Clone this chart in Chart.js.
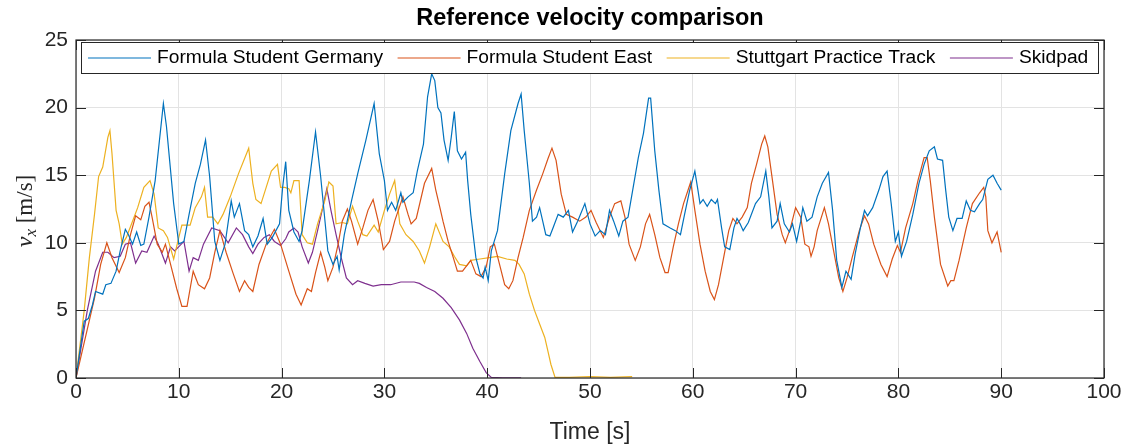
<!DOCTYPE html>
<html>
<head>
<meta charset="utf-8">
<script src="https://cdn.jsdelivr.net/npm/chart.js@4"></script>
<style>
html,body{margin:0;padding:0;background:#fff;}
#wrap{width:1126px;height:446px;}
</style>
</head>
<body>
<div id="wrap"><canvas id="c" width="1126" height="446"></canvas></div>
<script>
// ---- data (time [s], speed [m/s]) ----
const seriesNames = ['Formula Student Germany', 'Formula Student East', 'Stuttgart Practice Track', 'Skidpad'];
const xTicks = [0, 10, 20, 30, 40, 50, 60, 70, 80, 90, 100];
const yTicks = [0, 5, 10, 15, 20, 25];

const fsgSamples = [[0,0],[0.8,4.2],[1.2,4.4],[1.6,5.4],[1.9,6.4],[2.6,6.2],[2.9,6.9],[3.4,7.0],[3.9,7.9],[4.3,9.4],[4.8,11.0],[5.1,10.6],[5.5,9.9],[5.9,10.8],[6.3,9.8],[6.6,9.9],[7.1,11.9],[7.7,14.6],[8.5,20.3],[8.8,18.6],[9.5,12.9],[10.0,9.9],[10.5,10.1],[11.0,12.1],[11.6,14.4],[12.1,15.8],[12.6,17.6],[13.0,14.9],[13.5,10.1],[14.0,8.7],[14.5,9.9],[15.1,13.1],[15.4,11.9],[15.9,12.9],[16.4,10.9],[16.8,10.6],[17.2,9.7],[17.7,10.5],[18.2,11.8],[18.6,9.9],[19.1,10.4],[19.8,11.4],[20.1,14.1],[20.4,16.0],[20.7,12.4],[21.2,10.8],[21.7,10.1],[22.0,10.9],[22.7,14.6],[23.3,18.2],[23.8,14.9],[24.5,9.4],[25.0,8.4],[25.4,9.0],[25.6,8.0],[26.1,10.6],[26.8,13.1],[27.4,15.1],[28.2,17.6],[29.0,20.3],[29.5,16.6],[30.0,14.6],[30.3,12.4],[30.7,13.0],[31.1,12.4],[31.6,13.7],[31.8,13.0],[32.3,13.4],[32.8,13.7],[33.2,15.3],[33.8,17.3],[34.2,20.8],[34.6,22.5],[34.9,22.0],[35.2,20.0],[35.5,19.6],[35.8,17.6],[36.2,16.1],[36.5,17.8],[36.8,19.7],[37.1,16.8],[37.5,16.2],[37.9,16.7],[38.1,14.6],[38.4,12.1],[38.9,8.9],[39.3,7.7],[39.6,7.4],[39.8,8.2],[40.1,7.2],[40.4,9.4],[41.0,10.9],[41.7,15.1],[42.3,18.3],[43.0,20.3],[43.3,21.0],[43.6,18.3],[44.1,14.4],[44.4,11.6],[44.8,11.9],[45.1,12.6],[45.4,11.6],[45.7,10.6],[46.1,10.5],[46.4,11.1],[46.9,12.1],[47.4,11.9],[47.9,12.4],[48.3,10.8],[48.8,11.6],[49.5,12.9],[50.0,11.4],[50.5,10.5],[51.0,10.9],[51.5,10.6],[51.9,12.4],[52.3,11.6],[52.8,10.5],[53.2,11.6],[53.7,11.9],[54.2,14.1],[54.7,16.3],[55.2,18.1],[55.7,20.7],[55.9,20.7],[56.3,16.8],[56.7,13.9],[57.1,11.4],[57.8,11.1],[58.3,10.9],[58.8,10.6],[59.2,12.1],[59.7,13.9],[60.2,15.3],[60.5,13.9],[60.7,12.9],[61.0,13.2],[61.4,12.7],[61.8,13.2],[62.2,12.9],[62.4,13.2],[62.8,11.1],[63.1,9.7],[63.6,9.5],[64.0,11.1],[64.3,11.8],[64.6,11.4],[64.9,10.9],[65.4,11.5],[66.1,12.9],[66.6,13.4],[67.1,15.3],[67.4,13.4],[67.7,11.1],[68.2,11.6],[68.5,12.9],[68.9,11.4],[69.4,10.8],[69.7,11.4],[70.1,10.1],[70.5,11.6],[70.7,12.6],[71.1,11.6],[71.6,11.9],[72.1,13.4],[72.6,14.4],[73.2,15.2],[73.6,12.4],[74.0,8.7],[74.5,6.7],[74.9,7.9],[75.4,7.3],[75.8,9.2],[76.3,11.1],[76.7,12.4],[77.0,12.0],[77.5,12.6],[78.1,13.9],[78.5,14.9],[78.9,15.3],[79.3,12.9],[79.7,10.1],[80.0,10.8],[80.3,9.0],[80.8,10.1],[81.4,12.1],[82.0,14.4],[82.5,15.8],[83.0,16.8],[83.5,17.1],[83.8,16.2],[84.3,16.1],[84.6,13.9],[84.9,11.9],[85.3,10.9],[85.7,11.8],[86.2,11.8],[86.6,13.1],[87.0,12.4],[87.4,12.3],[87.9,12.9],[88.2,13.2],[88.7,14.7],[89.2,15.0],[89.6,14.4],[90.0,13.9]];

const fseSamples = [[0,0],[1.8,5.9],[2.4,8.4],[3.0,10.0],[3.5,8.9],[4.2,7.8],[4.8,8.9],[5.3,10.6],[5.8,12.0],[6.3,11.7],[6.7,12.7],[7.1,13.0],[7.4,11.9],[7.9,9.9],[8.4,9.3],[8.7,9.9],[9.2,8.4],[9.8,6.6],[10.3,5.3],[10.8,5.3],[11.4,7.9],[11.9,6.9],[12.5,6.6],[13.0,7.4],[13.5,9.3],[14.0,10.9],[14.6,9.3],[15.3,7.7],[15.9,6.4],[16.4,7.2],[16.8,6.7],[17.2,6.4],[17.8,8.4],[18.5,9.9],[19.3,11.0],[19.9,9.9],[20.7,7.9],[21.4,6.2],[21.9,5.4],[22.5,6.6],[22.9,6.4],[23.3,7.8],[23.8,9.3],[24.2,8.2],[24.5,7.2],[25.0,8.2],[25.5,9.9],[25.9,11.6],[26.4,12.5],[26.8,11.6],[27.4,9.9],[27.9,11.1],[28.4,12.4],[28.9,13.2],[29.4,11.6],[29.9,9.5],[30.5,10.1],[31.0,11.6],[31.8,13.4],[32.3,12.1],[32.6,11.4],[33.1,11.8],[33.9,14.4],[34.6,15.5],[35.0,13.9],[35.4,12.6],[35.7,11.6],[36.2,10.1],[36.7,8.9],[37.1,7.9],[37.6,7.9],[37.9,8.2],[38.4,8.7],[38.9,7.7],[39.4,7.5],[39.9,8.2],[40.3,9.7],[40.7,9.9],[41.2,8.4],[41.7,6.9],[42.1,6.6],[42.5,7.2],[43.0,8.9],[43.5,10.4],[44.1,12.4],[44.8,13.9],[45.4,15.1],[45.9,16.2],[46.3,17.0],[46.7,16.1],[47.2,13.6],[47.7,12.1],[48.3,11.9],[49.0,11.6],[49.6,11.9],[50.1,12.4],[50.6,11.5],[51.3,10.4],[51.9,11.9],[52.4,12.9],[53.0,13.1],[53.4,11.9],[53.8,9.9],[54.4,8.7],[54.9,9.7],[55.4,11.4],[55.8,12.1],[56.3,10.6],[56.8,8.9],[57.3,7.8],[57.6,7.8],[58.1,9.7],[58.6,11.4],[59.1,12.9],[59.8,14.5],[60.2,12.4],[60.7,9.9],[61.2,7.9],[61.7,6.4],[62.1,5.8],[62.5,6.9],[63.0,8.9],[63.5,10.9],[63.9,11.8],[64.3,11.4],[64.8,11.9],[65.3,12.6],[65.7,14.4],[66.2,15.8],[66.7,17.3],[67.0,17.9],[67.3,17.1],[67.7,14.9],[68.2,12.1],[68.7,10.6],[69.0,10.0],[69.5,11.1],[70.0,12.6],[70.5,11.9],[70.9,9.9],[71.3,9.7],[71.5,9.0],[71.8,9.7],[72.1,10.9],[72.8,12.6],[73.2,11.4],[73.7,9.4],[74.2,7.4],[74.6,6.4],[75.0,7.4],[75.5,8.9],[76.2,10.9],[76.7,12.0],[77.1,11.4],[77.6,9.9],[78.3,8.4],[78.9,7.5],[79.4,8.8],[79.9,9.8],[80.2,9.3],[80.7,11.1],[81.4,12.9],[81.9,14.6],[82.5,16.3],[82.8,16.3],[83.1,14.6],[83.5,11.9],[84.1,8.4],[84.8,6.8],[85.1,7.2],[85.4,7.2],[85.9,8.7],[86.6,11.1],[87.2,12.9],[87.9,13.7],[88.3,14.1],[88.5,13.4],[88.7,10.9],[89.1,10.0],[89.6,10.8],[90.0,9.3]];

const stgSamples = [[0,0],[0.8,5.0],[1.3,8.9],[1.8,12.1],[2.2,14.9],[2.6,15.6],[3.1,17.8],[3.3,18.3],[3.5,16.6],[3.9,12.4],[4.2,11.4],[4.5,9.9],[4.9,10.4],[5.5,11.6],[6.0,12.6],[6.6,14.1],[7.2,14.6],[7.6,13.6],[8.0,11.1],[8.5,10.9],[8.9,10.4],[9.5,8.8],[10.0,10.4],[10.3,11.3],[11.1,11.3],[11.6,12.6],[12.2,13.4],[12.5,14.1],[12.8,11.9],[13.3,11.9],[13.8,11.4],[14.3,12.1],[15.0,13.4],[15.8,15.1],[16.8,17.0],[17.2,14.4],[17.5,13.2],[18.0,12.9],[18.5,14.1],[19.0,15.3],[19.6,15.8],[19.9,14.1],[20.3,14.1],[20.7,14.0],[20.9,13.7],[21.2,14.6],[21.7,14.6],[22.0,10.6],[22.5,10.0],[23.0,9.9],[23.5,11.4],[24.2,13.1],[24.6,14.5],[25.0,14.2],[25.3,11.4],[25.9,11.5],[26.4,11.4],[26.9,12.7],[27.4,11.6],[27.9,10.6],[28.3,10.5],[29.0,11.3],[29.4,10.8],[30.0,12.4],[30.5,13.6],[31.0,14.6],[31.5,11.4],[32.1,10.6],[32.8,10.1],[33.4,9.4],[33.9,8.5],[34.4,9.7],[35.0,11.4],[35.7,10.1],[36.3,9.7],[36.8,9.0],[37.3,8.4],[38.0,8.3],[38.4,8.7],[39.3,8.8],[40.2,8.9],[41.0,9.0],[41.9,8.8],[42.7,8.7],[43.1,8.4],[43.6,7.7],[44.1,6.2],[44.6,5.0],[45.1,4.0],[45.6,3.0],[45.9,2.0],[46.2,1.0],[46.6,0.05],[48.0,0.05],[50.0,0.1],[52.0,0.05],[54.1,0.1]];

const skidSamples = [[0,0],[1.1,5.0],[1.9,7.9],[2.6,9.3],[3.1,9.3],[3.7,8.9],[4.3,9.0],[4.8,9.9],[5.3,10.0],[5.8,8.5],[6.4,9.4],[6.9,9.3],[7.6,10.5],[8.0,9.9],[8.7,8.5],[9.2,9.7],[9.6,9.4],[10.5,10.1],[11.0,7.9],[11.4,8.9],[11.9,8.7],[12.4,9.9],[13.2,11.1],[14.0,10.9],[14.8,10.0],[15.6,11.1],[16.2,10.6],[16.8,9.7],[17.2,9.2],[17.7,9.9],[18.3,10.4],[18.8,10.6],[19.3,10.1],[19.9,9.8],[20.4,10.3],[20.7,10.8],[21.2,11.1],[21.6,10.8],[22.0,9.7],[22.6,8.5],[23.0,9.3],[23.5,10.9],[24.0,12.6],[24.4,14.0],[24.8,12.4],[25.3,10.6],[25.8,8.9],[26.3,7.4],[26.9,6.9],[27.4,7.2],[28.1,7.0],[28.9,6.8],[29.7,6.9],[30.6,6.9],[31.6,7.1],[32.9,7.1],[33.4,7.0],[34.1,6.7],[34.9,6.4],[35.7,5.9],[36.5,5.2],[37.3,4.3],[38.0,3.3],[38.6,2.2],[39.3,1.2],[39.9,0.4],[40.4,0.05],[41.5,0.02],[43.3,0.02]];

const seriesColors = ['#0072BD', '#D95319', '#EDB120', '#7E2F8E'];

// ---- build chart ----
const toXY = arr => arr.map(p => ({x: p[0], y: p[1]}));
const allSamples = [fsgSamples, fseSamples, stgSamples, skidSamples];
const TXT = '#262626';
const SANS = '"Liberation Sans", Arial, Helvetica, sans-serif';
const SERIF = '"Liberation Serif", "Times New Roman", serif';

const matlabDecor = {
  id: 'matlabDecor',
  afterDatasetsDraw(chart) {
    const {ctx, chartArea: a, scales} = chart;
    ctx.save();
    // box
    ctx.strokeStyle = TXT;
    ctx.lineWidth = 1.2;
    ctx.strokeRect(a.left, a.top, a.right - a.left, a.bottom - a.top);
    // inward ticks on all sides
    const tl = 10;
    ctx.beginPath();
    scales.x.ticks.forEach(t => {
      const px = Math.round(scales.x.getPixelForValue(t.value)) + 0.5;
      ctx.moveTo(px, a.bottom); ctx.lineTo(px, a.bottom - tl);
      ctx.moveTo(px, a.top); ctx.lineTo(px, a.top + tl);
    });
    scales.y.ticks.forEach(t => {
      const py = Math.round(scales.y.getPixelForValue(t.value)) + 0.5;
      ctx.moveTo(a.left, py); ctx.lineTo(a.left + tl, py);
      ctx.moveTo(a.right, py); ctx.lineTo(a.right - tl, py);
    });
    ctx.lineWidth = 1;
    ctx.stroke();

    // legend (inside, top, horizontal)
    const lx0 = a.left + 5, ly0 = a.top + 2, lh = 31;
    const lx1 = a.right - 6;
    ctx.fillStyle = '#fff';
    ctx.fillRect(lx0, ly0, lx1 - lx0, lh);
    ctx.strokeStyle = TXT;
    ctx.lineWidth = 1;
    ctx.strokeRect(lx0 + 0.5, ly0 + 0.5, lx1 - lx0, lh);
    ctx.font = '19.2px ' + SANS;
    ctx.textBaseline = 'middle';
    ctx.textAlign = 'left';
    const cy = ly0 + lh / 2 + 0.5;
    let x = lx0 + 7;
    chart.data.datasets.forEach(ds => {
      ctx.strokeStyle = ds.borderColor;
      ctx.lineWidth = 1.2;
      ctx.beginPath();
      ctx.moveTo(x, cy); ctx.lineTo(x + 63, cy);
      ctx.stroke();
      x += 69;
      ctx.fillStyle = '#000';
      ctx.fillText(ds.label, x, cy);
      x += ctx.measureText(ds.label).width + 14.5;
    });
    ctx.restore();
  },
  afterDraw(chart) {
    const {ctx, chartArea: a} = chart;
    ctx.save();
    // title
    ctx.fillStyle = '#000';
    ctx.font = 'bold 23.5px ' + SANS;
    ctx.textAlign = 'center';
    ctx.textBaseline = 'middle';
    ctx.fillText('Reference velocity comparison', (a.left + a.right) / 2, 19);
    // y label: v_x [m/s] (LaTeX-like)
    ctx.translate(25, (a.top + a.bottom) / 2 + 2);
    ctx.rotate(-Math.PI / 2);
    const fV = 'italic 24px ' + SERIF, fSub = 'italic 17px ' + SERIF, fU = '23px ' + SERIF;
    ctx.font = fV; const wV = ctx.measureText('v').width;
    ctx.font = fSub; const wS = ctx.measureText('x').width;
    ctx.font = fU; const wU = ctx.measureText(' [m/s]').width;
    let x = -(wV + wS + wU) / 2;
    ctx.textAlign = 'left';
    ctx.textBaseline = 'alphabetic';
    const base = 7;
    ctx.font = fV; ctx.fillStyle = TXT; ctx.fillText('v', x, base); x += wV;
    ctx.font = fSub; ctx.fillText('x', x, base + 4); x += wS;
    ctx.font = fU; ctx.fillText(' [m/s]', x, base);
    ctx.restore();
  }
};

new Chart(document.getElementById('c'), {
  type: 'line',
  data: {
    datasets: allSamples.map((s, i) => ({
      label: seriesNames[i],
      data: toXY(s),
      borderColor: seriesColors[i],
      backgroundColor: seriesColors[i],
      borderWidth: 1.2,
      pointRadius: 0,
      tension: 0,
      fill: false
    }))
  },
  options: {
    responsive: false,
    animation: false,
    events: [],
    layout: {padding: {left: 0, right: 22, top: 40, bottom: 0}},
    plugins: {legend: {display: false}, title: {display: false}, tooltip: {enabled: false}},
    scales: {
      x: {
        type: 'linear', min: 0, max: 100,
        afterBuildTicks: s => { s.ticks = xTicks.map(v => ({value: v})); },
        afterFit: s => { s.height = 68; },
        ticks: {font: {family: SANS, size: 21}, color: TXT, padding: 2, maxRotation: 0, autoSkip: false},
        grid: {color: '#e3e3e3', drawTicks: false, lineWidth: 1},
        border: {display: false},
        title: {display: true, text: 'Time [s]', font: {family: SANS, size: 23}, color: TXT, padding: {top: 12, bottom: 0}}
      },
      y: {
        type: 'linear', min: 0, max: 25,
        afterBuildTicks: s => { s.ticks = yTicks.map(v => ({value: v})); },
        afterFit: s => { s.width = 76; },
        ticks: {font: {family: SANS, size: 21}, color: TXT, padding: 8, autoSkip: false},
        grid: {color: '#e3e3e3', drawTicks: false, lineWidth: 1},
        border: {display: false}
      }
    }
  },
  plugins: [matlabDecor]
});
</script>
</body>
</html>
